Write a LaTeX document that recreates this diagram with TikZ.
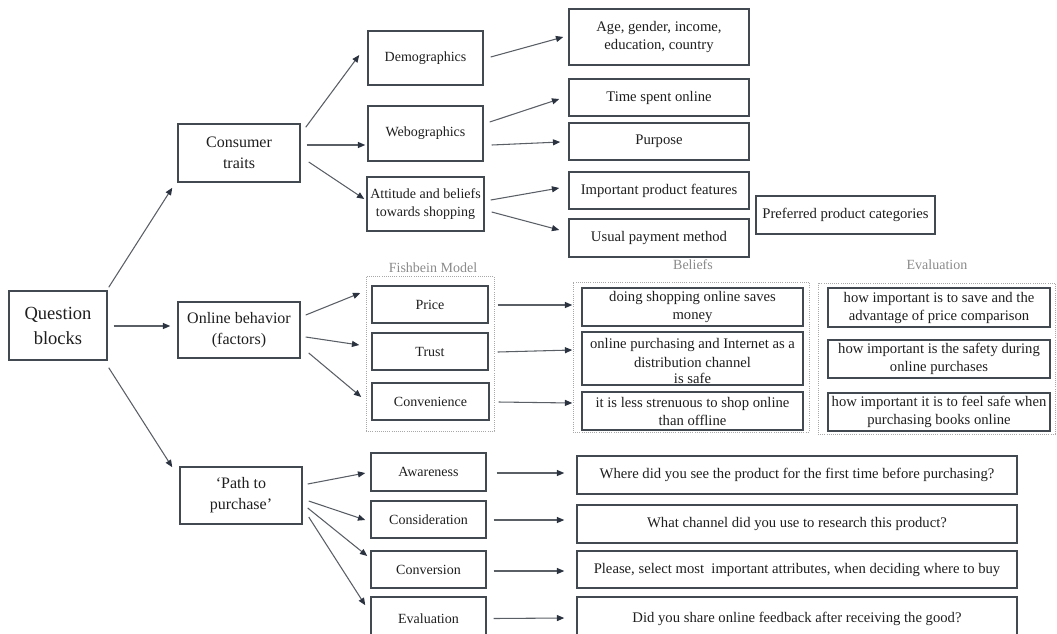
\documentclass[tikz,border=0pt]{standalone}
\usepackage{fontspec}
\setmainfont{Liberation Serif}
\usetikzlibrary{arrows.meta}
\definecolor{bord}{HTML}{434950}
\definecolor{arrc}{HTML}{5A5F66}
\definecolor{tipc}{HTML}{2B3340}
\definecolor{dotc}{HTML}{A8A8A8}
\definecolor{labc}{HTML}{8A8A8A}
\definecolor{txtc}{HTML}{1E1E1E}
\newcommand{\fbig}{\fontsize{13.9}{18.75}\selectfont}
\newcommand{\fmed}{\fontsize{12}{15.75}\selectfont}
\newcommand{\fsm}{\fontsize{10.5}{13.5}\selectfont}
\newcommand{\fbe}{\fontsize{11}{13.5}\selectfont}
\newcommand{\bx}[7]{\node[#1,minimum width={(#5-#3)*0.75pt},minimum height={(#6-#4)*0.75pt}] (#2) at ({(#3+#5)/2},{(#4+#6)/2}) {#7};}
\tikzset{
  box/.style={draw=bord, line width=1.1pt, inner sep=1pt, align=center, font=\fsm, text=txtc},
  bbox/.style={box, font=\fbe},
  cont/.style={draw=dotc, densely dotted, line width=0.6pt, inner sep=0pt},
  lab/.style={font=\fsm, text=labc, inner sep=0pt},
  txt/.style={align=center, text=txtc, inner sep=0pt},
  arr/.style={draw=arrc, line width=0.8pt, -{Triangle[length=5.5pt,width=4.5pt,color=tipc]}}
}
\begin{document}
\begin{tikzpicture}[x=0.75pt,y=-0.75pt]
\useasboundingbox (0,0) rectangle (1057,633);
% containers
\bx{cont}{fish}{366}{276}{494}{431}{}
\bx{cont}{beliefc}{573}{282}{809}{432}{}
\bx{cont}{evalc}{818}{283}{1055}{434}{}
\node[lab] (fishl) at (433,268) {Fishbein Model};
\node[lab] (beliefl) at (693,265) {Beliefs};
\node[lab] (evall) at (937,265) {Evaluation};
% level 1
\bx{box,font=\fbig}{qb}{9}{291}{107}{360}{Question\\blocks}
% level 2
\bx{box,font=\fmed}{ct}{178}{124}{300}{182}{Consumer\\traits}
\bx{box,font=\fmed}{ob}{178}{302}{300}{358}{Online behavior\\(factors)}
\bx{box,font=\fmed}{pp}{180}{467}{302}{524}{‘Path to\\purchase’}
% level 3
\bx{box}{demo}{368}{31}{483}{85}{Demographics}
\bx{box}{webo}{368}{106}{483}{161}{Webographics}
\bx{box}{att}{367}{177}{484}{231}{Attitude and beliefs\\towards shopping}
\bx{box}{price}{372}{286}{488}{323}{Price}
\bx{box}{trust}{372}{333}{488}{370}{Trust}
\bx{box}{conv}{372}{383}{489}{420}{Convenience}
\bx{box}{aw}{371}{453}{486}{491}{Awareness}
\bx{box}{cons}{371}{501}{486}{538}{Consideration}
\bx{box}{cvs}{371}{551}{486}{588}{Conversion}
\bx{box}{ev}{371}{597}{486}{640}{Evaluation}
% level 4
\bx{bbox}{age}{569}{9}{749}{65}{Age, gender, income,\\education, country}
\bx{bbox}{time}{569}{79}{749}{116}{Time spent online}
\bx{bbox}{purp}{569}{123}{749}{160}{Purpose}
\bx{bbox}{ipf}{569}{172}{749}{209}{Important product features}
\bx{bbox}{upm}{569}{219}{749}{257}{Usual payment method}
\bx{bbox}{ppc}{756}{196}{935}{234}{Preferred product categories}
\bx{bbox}{b1}{582}{288}{803}{326}{doing shopping online saves\\money}
\bx{box}{b2}{582}{332}{803}{385}{}
\node[txt,font=\fbe] (b2t) at (692.5,361) {online purchasing and Internet as a\\[0.75pt]distribution channel\\[-1.5pt]is safe};
\bx{bbox}{b3}{582}{392}{803}{430}{it is less strenuous to shop online\\than offline}
\bx{bbox}{e1}{828}{288}{1050}{327}{how important is to save and the\\advantage of price comparison}
\bx{bbox}{e2}{828}{340}{1050}{378}{how important is the safety during\\online purchases}
\bx{bbox}{e3}{828}{393}{1050}{431}{how important it is to feel safe when\\purchasing books online}
\bx{bbox}{q1}{577}{456}{1017}{494}{Where did you see the product for the first time before purchasing?}
\bx{bbox}{q2}{577}{505}{1017}{543}{What channel did you use to research this product?}
\bx{bbox}{q3}{577}{551}{1017}{588}{Please, select most\ \ important attributes, when deciding where to buy}
\bx{bbox}{q4}{577}{597}{1017}{640}{Did you share online feedback after receiving the good?}
% arrows
\draw[arr] ([shift={(1,-3)}]qb.north east) -- ([shift={(-5,5)}]ct.south west);
\draw[arr] ([shift={(6,0.5)}]qb.east) -- ([shift={(-7,-4)}]ob.west);
\draw[arr] ([shift={(1,7)}]qb.south east) -- ([shift={(-7,1)}]pp.north west);
\draw[arr] ([shift={(5,4)}]ct.north east) -- ([shift={(-8,-3)}]demo.west);
\draw[arr] ([shift={(6,-8)}]ct.east) -- ([shift={(-2,11.5)}]webo.west);
\draw[arr] ([shift={(8,9)}]ct.east) -- ([shift={(-2,-5)}]att.west);
\draw[arr] ([shift={(7,-1)}]demo.east) -- ([shift={(-5,0)}]age.west);
\draw[arr] ([shift={(6,-11.5)}]webo.east) -- ([shift={(-9,1.5)}]time.west);
\draw[arr] ([shift={(8,11.5)}]webo.east) -- ([shift={(-8,0.5)}]purp.west);
\draw[arr] ([shift={(6,-4)}]att.east) -- ([shift={(-9,-2.5)}]ipf.west);
\draw[arr] ([shift={(7,8)}]att.east) -- ([shift={(-9,-8)}]upm.west);
\draw[arr] ([shift={(5,-15)}]ob.east) -- ([shift={(-11,-11.5)}]price.west);
\draw[arr] ([shift={(5,7)}]ob.east) -- ([shift={(-12,-6.5)}]trust.west);
\draw[arr] ([shift={(8,23)}]ob.east) -- ([shift={(-10,-4.5)}]conv.west);
\draw[arr] ([shift={(9,0.5)}]price.east) -- ([shift={(-9,-2)}]b1.west);
\draw[arr] ([shift={(9,0.5)}]trust.east) -- ([shift={(-9,-8.5)}]b2.west);
\draw[arr] ([shift={(9,0.5)}]conv.east) -- ([shift={(-9,-8)}]b3.west);
\draw[arr] ([shift={(5,-11.5)}]pp.east) -- ([shift={(-5,1)}]aw.west);
\draw[arr] ([shift={(6,5.5)}]pp.east) -- ([shift={(-5,0.5)}]cons.west);
\draw[arr] ([shift={(5,12.5)}]pp.east) -- ([shift={(-3,-13.5)}]cvs.west);
\draw[arr] ([shift={(6,21.5)}]pp.east) -- ([shift={(-5,9)}]ev.north west);
\draw[arr] ([shift={(10,1)}]aw.east) -- ([shift={(-12,-2)}]q1.west);
\draw[arr] ([shift={(7,0.5)}]cons.east) -- ([shift={(-12,-4)}]q2.west);
\draw[arr] ([shift={(7,1.5)}]cvs.east) -- ([shift={(-12,1.5)}]q3.west);
\draw[arr] ([shift={(7,0)}]ev.east) -- ([shift={(-12,-0.5)}]q4.west);
\end{tikzpicture}
\end{document}
